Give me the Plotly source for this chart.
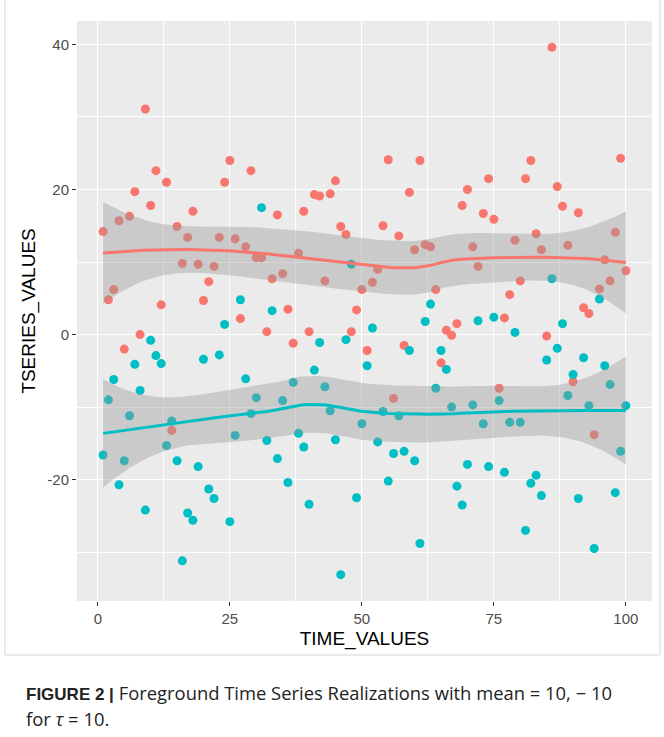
import numpy as np
import plotly.graph_objects as go

# ---------------- data ----------------
TIME_VALUES = list(range(1, 101))

SERIES_A = [14.2, 4.8, 6.2, 15.7, -2.0, 16.3, 19.7, 0.0, 31.1, 17.8,
            22.6, 4.1, 21.0, -13.2, 14.9, 9.8, 13.4, 17.0, 9.7, 4.7,
            7.3, 9.4, 13.4, 21.0, 24.0, 13.2, 2.2, 12.1, 22.6, 10.6,
            10.6, 0.4, 7.7, 16.5, 8.4, 3.5, -1.2, 11.2, 17.0, 0.4,
            19.3, 19.1, 7.4, 19.4, 21.2, 14.9, 13.8, 0.4, 3.4, 6.2,
            -2.2, 7.2, 9.0, 15.0, 24.1, -8.8, 13.6, -1.5, 19.6, 11.7,
            24.0, 12.4, 12.1, 6.2, -3.9, 0.6, -0.1, 1.5, 17.8, 20.0,
            12.1, 9.4, 16.7, 21.5, 15.9, -7.4, 2.3, 5.5, 13.0, 7.4,
            21.5, 24.0, 13.9, 11.7, -0.2, 39.6, 20.4, 17.7, 12.3, -6.5,
            16.8, 3.7, 2.9, -13.8, 6.3, 10.3, 7.4, 14.1, 24.3, 8.8]

SERIES_B = [-16.6, -9.0, -6.2, -20.7, -17.4, -11.2, -4.1, -7.7, -24.2, -0.8,
            -2.9, -4.0, -15.3, -11.9, -17.4, -31.2, -24.6, -25.6, -18.2, -3.4,
            -21.3, -22.6, -2.8, 1.4, -25.8, -13.9, 4.8, -6.1, -10.9, -8.7,
            17.5, -14.6, 3.3, -17.1, -9.1, -20.4, -6.6, -13.6, -15.5, -23.4,
            -4.9, -1.1, -7.2, -10.5, -14.5, -33.1, -0.7, 9.7, -22.5, -12.3,
            -4.3, 0.9, -14.8, -10.6, -20.2, -16.4, -11.2, -16.1, -2.2, -17.4,
            -28.8, 1.8, 4.2, -7.4, -2.2, -4.8, -10.0, -20.9, -23.5, -17.9,
            -9.7, 1.9, -12.3, -18.2, 2.4, -9.1, -19.0, -12.1, 0.3, -12.1,
            -27.0, -20.5, -19.4, -22.2, -3.5, 7.7, -1.9, 1.5, -8.4, -5.5,
            -22.6, -3.2, -9.8, -29.5, 4.9, -4.3, -6.9, -21.8, -16.1, -9.8]

X_TICKS = [0, 25, 50, 75, 100]
Y_TICKS = [-20, 0, 20, 40]
X_TITLE = "TIME_VALUES"
Y_TITLE = "TSERIES_VALUES"
CAPTION_BOLD = "FIGURE 2 |"
CAPTION_LINE1 = " Foreground Time Series Realizations with mean = 10, \u2212 10"
CAPTION_LINE2 = "for <i>\u03c4</i> = 10."

COL_A = "#F8766D"
COL_B = "#00BFC4"


# ---------------- loess smoother (like ggplot geom_smooth) ----------------
def loess_operator(x, x0s, span=0.75):
    x = np.asarray(x, float)
    n = len(x)
    q = int(np.floor(n * span))
    rows = []
    for x0 in x0s:
        d = np.abs(x - x0)
        h = np.sort(d)[q - 1]
        u = np.clip(d / h, 0, 1)
        w = (1 - u ** 3) ** 3
        X = np.vstack([np.ones(n), x - x0, (x - x0) ** 2]).T
        XtW = X.T * w
        A = XtW @ X
        rows.append(np.linalg.solve(A, XtW)[0])
    return np.array(rows)


def t975(df):
    z = 1.959963985
    return (z + (z ** 3 + z) / (4 * df)
            + (5 * z ** 5 + 16 * z ** 3 + 3 * z) / (96 * df ** 2)
            + (3 * z ** 7 + 19 * z ** 5 + 17 * z ** 3 - 15 * z) / (384 * df ** 3))


def smooth(x, y, npts=80):
    x = np.asarray(x, float)
    y = np.asarray(y, float)
    n = len(x)
    L = loess_operator(x, x)
    R = np.eye(n) - L
    RtR = R.T @ R
    d1 = np.trace(RtR)
    d2 = np.trace(RtR @ RtR)
    resid = y - L @ y
    sigma = np.sqrt(np.sum(resid ** 2) / d1)
    df = d1 ** 2 / d2
    xs = np.linspace(x.min(), x.max(), npts)
    Ls = loess_operator(x, xs)
    fit = Ls @ y
    se = sigma * np.sqrt(np.sum(Ls ** 2, axis=1))
    tq = t975(df)
    return xs, fit, fit - tq * se, fit + tq * se


# ---------------- layout geometry ----------------
W, H = 664, 737
PL, PR, PT, PB = 77, 652, 21, 601


def px2x(px):
    return (px - PL) / (PR - PL)


def py2y(py):
    return (PB - py) / (PB - PT)


fig = go.Figure()

fig.add_trace(go.Scatter(x=TIME_VALUES, y=SERIES_A, mode="markers",
                         marker=dict(color=COL_A, size=9, line=dict(width=0)),
                         showlegend=False, hoverinfo="skip"))
fig.add_trace(go.Scatter(x=TIME_VALUES, y=SERIES_B, mode="markers",
                         marker=dict(color=COL_B, size=9, line=dict(width=0)),
                         showlegend=False, hoverinfo="skip"))

all_y = list(SERIES_A) + list(SERIES_B)
for ser, col in ((SERIES_A, COL_A), (SERIES_B, COL_B)):
    xs, fit, lo, hi = smooth(TIME_VALUES, ser)
    all_y += list(lo) + list(hi)
    fig.add_trace(go.Scatter(x=list(xs) + list(xs[::-1]),
                             y=list(hi) + list(lo[::-1]),
                             fill="toself", fillcolor="rgba(153,153,153,0.4)",
                             line=dict(width=0), mode="lines",
                             showlegend=False, hoverinfo="skip"))
    fig.add_trace(go.Scatter(x=xs, y=fit, mode="lines",
                             line=dict(color=col, width=3),
                             showlegend=False, hoverinfo="skip"))

xmin, xmax = min(TIME_VALUES), max(TIME_VALUES)
xpad = 0.05 * (xmax - xmin)
ymin, ymax = min(all_y), max(all_y)
ypad = 0.05 * (ymax - ymin)

axis_common = dict(
    showline=False, zeroline=False,
    showgrid=True, gridcolor="white", gridwidth=1.3,
    ticks="outside", ticklen=4, tickwidth=1, tickcolor="#333333",
    tickfont=dict(family="Liberation Sans, Arial, sans-serif", size=15, color="#4D4D4D"),
)

CAP_FONT = "Liberation Sans, Arial, sans-serif"
REG_STYLE = "font-family:'Open Sans', sans-serif;font-size:18.4px"

fig.update_layout(
    width=W, height=H,
    margin=dict(l=PL, r=W - PR, t=PT, b=H - PB, pad=0),
    paper_bgcolor="white",
    plot_bgcolor="#EBEBEB",
    font=dict(family="Liberation Sans, Arial, sans-serif", color="black"),
    xaxis=dict(range=[xmin - xpad, xmax + xpad], tickmode="array", tickvals=X_TICKS,
               ticktext=[str(v) for v in X_TICKS],
               minor=dict(tickmode="array",
                          tickvals=[(a + b) / 2 for a, b in zip(X_TICKS[:-1], X_TICKS[1:])],
                          showgrid=True, gridcolor="white", gridwidth=0.6, ticks=""),
               title=dict(text=X_TITLE, font=dict(size=19, color="black"), standoff=5),
               **axis_common),
    yaxis=dict(range=[ymin - ypad, ymax + ypad], tickmode="array", tickvals=Y_TICKS,
               ticktext=[str(v) for v in Y_TICKS],
               minor=dict(tickmode="array",
                          tickvals=[-30, -10, 10, 30],
                          showgrid=True, gridcolor="white", gridwidth=0.6, ticks=""),
               title=dict(text=Y_TITLE, font=dict(size=19, color="black"), standoff=6),
               **axis_common),
    shapes=[dict(type="rect", xref="paper", yref="paper",
                 x0=px2x(5), x1=px2x(660), y0=py2y(655), y1=py2y(-2),
                 line=dict(color="#D5D5D5", width=1), fillcolor="rgba(0,0,0,0)",
                 layer="below")],
    annotations=[
        dict(text="<b>" + CAPTION_BOLD + "</b>"
                  + "<span style=\"" + REG_STYLE + "\">" + CAPTION_LINE1 + "</span>",
             xref="paper", yref="paper", x=px2x(24), y=py2y(692),
             xanchor="left", yanchor="middle", showarrow=False, align="left",
             font=dict(family=CAP_FONT, size=17, color="#222222")),
        dict(text="<span style=\"" + REG_STYLE + "\">" + CAPTION_LINE2 + "</span>",
             xref="paper", yref="paper", x=px2x(24), y=py2y(718),
             xanchor="left", yanchor="middle", showarrow=False, align="left",
             font=dict(family=CAP_FONT, size=17, color="#222222")),
    ],
)

fig.write_html("out.html")
